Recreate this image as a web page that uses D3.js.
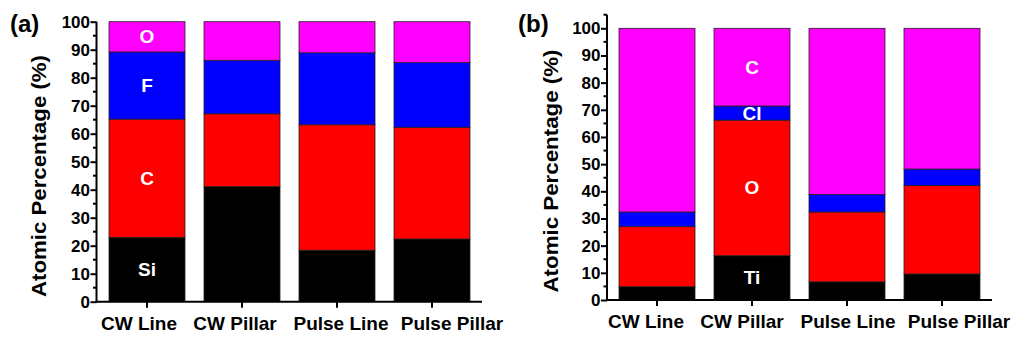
<!DOCTYPE html>
<html><head><meta charset="utf-8">
<script src="https://cdn.jsdelivr.net/npm/d3@7"></script>
<style>body{margin:0;background:#fff}svg text{font-family:"Liberation Sans",Arial,sans-serif;font-weight:bold}</style>
</head><body><svg id="c" width="1016" height="341"></svg>
<script>
const categories = ["CW Line","CW Pillar","Pulse Line","Pulse Pillar"];
// Panel (a): Si, C, F, O (stacked, %)
const elementsA = ["Si","C","F","O"];
const SiA = [23.0, 41.1, 18.4, 22.4];
const CA  = [42.2, 26.0, 44.8, 39.9];
const FA  = [24.0, 19.1, 25.7, 23.1];
const OA  = [10.8, 13.8, 11.1, 14.6];
// Panel (b): Ti, O, Cl, C
const elementsB = ["Ti","O","Cl","C"];
const TiB = [4.9, 16.3, 6.7, 9.6];
const OB  = [22.1, 49.9, 25.7, 32.5];
const ClB = [5.4, 5.2, 6.4, 6.1];
const CB  = [67.6, 28.6, 61.2, 51.8];
const yTicks = [0,10,20,30,40,50,60,70,80,90,100];
const colors = ["#000000","#ff0000","#0000ff","#ff00ff"];

const svg = d3.select("#c");

function panel(o){
  const g = svg.append("g");
  const y = d3.scaleLinear().domain([0, o.ymax]).range([o.y0, o.y0 - o.ymax*o.k]);
  const x = d3.scaleBand().domain(categories).range([o.bx0, o.bx0 + 4*95]).paddingInner(0.2).paddingOuter(0.1);
  const series = o.series;
  const rows = categories.map((c,i)=>{const r={cat:c}; o.elements.forEach((e,j)=>r[e]=series[j][i]); return r;});
  const stack = d3.stack().keys(o.elements)(rows);
  stack.forEach((s,j)=>{
    g.selectAll(null).data(s).join("rect")
      .attr("x", d=>x(d.data.cat)).attr("width", x.bandwidth())
      .attr("y", d=>y(d[1])).attr("height", d=>y(d[0])-y(d[1]))
      .attr("fill", colors[j]).attr("stroke","#222").attr("stroke-width",0.8);
  });
  stack.forEach((s,j)=>{
    const d = s[o.labelBar];
    g.append("text").attr("x", x(d.data.cat)+x.bandwidth()/2).attr("y", y((d[0]+d[1])/2))
      .attr("text-anchor","middle").attr("dominant-baseline","central")
      .attr("fill","#fff").attr("font-size",19).text(o.elements[j]);
  });
  const ya = d3.axisLeft(y).tickValues(yTicks).tickSize(6).tickFormat(d3.format("d"));
  const yg = g.append("g").attr("transform",`translate(${o.ax},0)`).call(ya);
  yg.select(".domain").remove();
  yg.selectAll(".tick line").attr("stroke","#000").attr("stroke-width",2);
  yg.selectAll(".tick text").attr("font-size",17).attr("x",-6.5).attr("fill","#000");
  const minors = d3.range(5, o.ymax+0.1, 10);
  yg.selectAll(".minor").data(minors).join("line").attr("class","minor")
    .attr("x1",-3.5).attr("x2",0).attr("y1",d=>y(d)).attr("y2",d=>y(d)).attr("stroke","#000").attr("stroke-width",2);
  g.append("line").attr("x1",o.ax).attr("x2",o.ax).attr("y1",y(0)+1).attr("y2",y(o.ymax)).attr("stroke","#000").attr("stroke-width",2);
  const xg = g.append("g").attr("transform",`translate(0,${o.y0})`).call(d3.axisBottom(x).tickSize(6).tickSizeOuter(0));
  xg.select(".domain").remove();
  xg.selectAll(".tick line").attr("stroke","#000").attr("stroke-width",2);
  xg.selectAll(".tick text").attr("font-size",19).attr("y",15).attr("fill","#000")
    .attr("dx",(d,i)=>o.labelDx[i]);
  g.append("line").attr("x1",o.ax-1).attr("x2",o.axEnd).attr("y1",o.y0).attr("y2",o.y0).attr("stroke","#000").attr("stroke-width",2);
  g.append("text").attr("transform",`translate(${o.tx},${o.ty}) rotate(-90)`).attr("text-anchor","middle")
    .attr("dominant-baseline","central").attr("font-size",21)
    .attr("textLength",o.tl).attr("lengthAdjust","spacingAndGlyphs").text("Atomic Percentage (%)");
  g.append("text").attr("x",o.px).attr("y",o.py).attr("font-size",24).text(o.tag);
}

panel({series:[SiA,CA,FA,OA], elements:elementsA, ymax:100, y0:301.7, k:2.8, bx0:99.5, ax:96.5, axEnd:482,
  labelBar:0, labelDx:[-8,-7,4,20], tx:38, ty:176, tl:242, px:10, py:32, tag:"(a)"});
panel({series:[TiB,OB,ClB,CB], elements:elementsB, ymax:105, y0:300, k:2.717, bx0:609.5, ax:607, axEnd:992,
  labelBar:1, labelDx:[-11,-10,1,17], tx:550, ty:171, tl:243, px:518, py:32, tag:"(b)"});
</script></body></html>
